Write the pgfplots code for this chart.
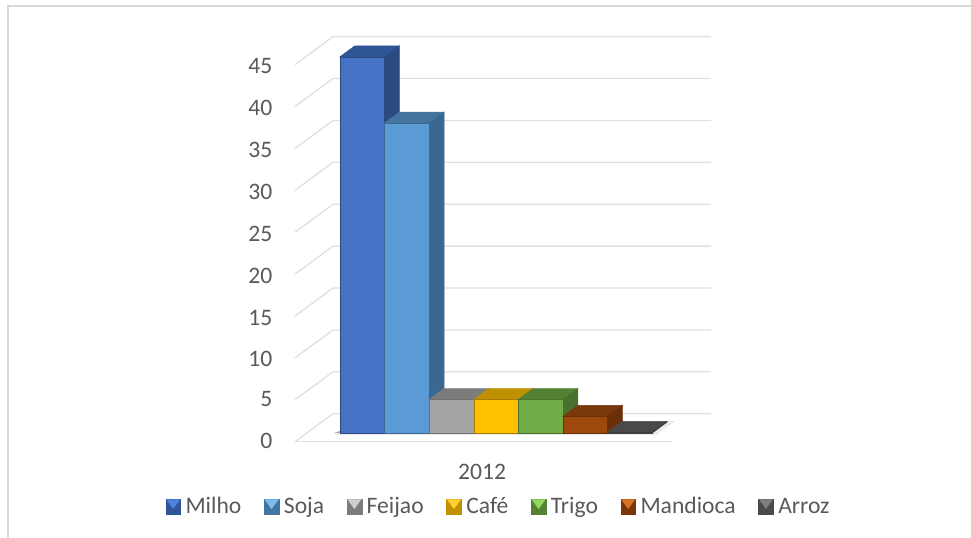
\documentclass[border=0pt]{standalone}
\usepackage{fontspec}
\setmainfont{Carlito}
\usepackage{pgfplots}
\pgfplotsset{compat=1.18}
\definecolor{gridc}{HTML}{E0E0E0}
\definecolor{framec}{HTML}{D9D9D9}
\definecolor{textc}{HTML}{595959}
% front, top, side and highlight colours of each crop
\definecolor{milhoF}{HTML}{4472C4}\definecolor{milhoT}{HTML}{2F5597}\definecolor{milhoS}{HTML}{2A4A80}\definecolor{milhoH}{HTML}{4F82DC}
\definecolor{sojaF}{HTML}{5B9BD5}\definecolor{sojaT}{HTML}{44759F}\definecolor{sojaS}{HTML}{3A6890}\definecolor{sojaH}{HTML}{7CBDF2}
\definecolor{feijaoF}{HTML}{A5A5A5}\definecolor{feijaoT}{HTML}{7C7C7C}\definecolor{feijaoS}{HTML}{6E6E6E}\definecolor{feijaoH}{HTML}{CFCFCF}
\definecolor{cafeF}{HTML}{FFC000}\definecolor{cafeT}{HTML}{BF9000}\definecolor{cafeS}{HTML}{A67C00}\definecolor{cafeH}{HTML}{FFD030}
\definecolor{trigoF}{HTML}{70AD47}\definecolor{trigoT}{HTML}{548235}\definecolor{trigoS}{HTML}{4A7030}\definecolor{trigoH}{HTML}{90D860}
\definecolor{mandiocaF}{HTML}{9E480E}\definecolor{mandiocaT}{HTML}{7A370B}\definecolor{mandiocaS}{HTML}{6A300A}\definecolor{mandiocaH}{HTML}{D87428}
\definecolor{arrozF}{HTML}{636363}\definecolor{arrozT}{HTML}{4A4A4A}\definecolor{arrozS}{HTML}{3E3E3E}\definecolor{arrozH}{HTML}{7E7E7E}

% One 3-D column: top, side and front faces, at depth 0.31 to 0.70 of the floor.
% #1 left x, #2 right x, #3 value, #4 colour prefix, #5 name
\newcommand{\cropcolumn}[5]{%
  \addplot3[forget plot,fill=#4T,draw=#4T] coordinates {(#1,0.31,#3) (#2,0.31,#3) (#2,0.70,#3) (#1,0.70,#3)} -- cycle;
  \addplot3[forget plot,fill=#4S,draw=#4S] coordinates {(#2,0.31,0) (#2,0.70,0) (#2,0.70,#3) (#2,0.31,#3)} -- cycle;
  \addplot3[fill=#4F,draw=#4S,line width=0.3pt,
    legend image code/.code={
      \fill[#4T] (0pt,-5.6pt) rectangle (11.2pt,5.6pt);
      \fill[#4H] (0.7pt,5.2pt) -- (10.5pt,5.2pt) -- (5.6pt,-1.6pt) -- cycle;
    }] coordinates {(#1,0.31,0) (#2,0.31,0) (#2,0.31,#3) (#1,0.31,#3)} -- cycle;
  \addlegendentry{#5}%
}

\begin{document}
\begin{tikzpicture}
\path[use as bounding box] (0,0) rectangle (728.25pt,403.5pt);
\draw[framec,line width=1.6pt] (6pt,0pt) -- (6pt,399pt) -- (728.25pt,399pt);
\begin{axis}[
  at={(221.25pt,72.2pt)}, anchor=origin,
  x={(0.75pt,0pt)}, y={(28.5pt,21pt)}, z={(0pt,6.285pt)},
  xmin=0, xmax=378, ymin=0, ymax=1, zmin=0, zmax=45,
  clip=false,
  axis line style={draw=none},
  tick style={draw=none},
  ytick=\empty,
  xtick={188}, xticklabels={2012},
  ztick={0,5,...,45},
  tick label style={text=textc},
  xticklabel style={font=\fontsize{17.7pt}{19pt}\selectfont,yshift=-13pt,xshift=4pt},
  zticklabel style={font=\fontsize{17.7pt}{19pt}\selectfont,xshift=-13.5pt,yshift=3pt},
  /pgf/number format/assume math mode=true,
  legend columns=7,
  legend cell align=left,
  legend style={
    at={(axis description cs:0.49,-0.16)}, anchor=center,
    draw=none, fill=none, text=textc,
    font=\fontsize{17.7pt}{19pt}\selectfont,
    /tikz/every even column/.append style={column sep=14.9pt},
    /tikz/every odd column/.append style={column sep=1.5pt},
  },
]
% Side wall and back wall grid lines, every 5 units
\addplot3[forget plot,gridc,line width=1pt] coordinates {(0,0,0) (0,1,0) (378,1,0)};
\addplot3[forget plot,gridc,line width=1pt] coordinates {(0,0,5) (0,1,5) (378,1,5)};
\addplot3[forget plot,gridc,line width=1pt] coordinates {(0,0,10) (0,1,10) (378,1,10)};
\addplot3[forget plot,gridc,line width=1pt] coordinates {(0,0,15) (0,1,15) (378,1,15)};
\addplot3[forget plot,gridc,line width=1pt] coordinates {(0,0,20) (0,1,20) (378,1,20)};
\addplot3[forget plot,gridc,line width=1pt] coordinates {(0,0,25) (0,1,25) (378,1,25)};
\addplot3[forget plot,gridc,line width=1pt] coordinates {(0,0,30) (0,1,30) (378,1,30)};
\addplot3[forget plot,gridc,line width=1pt] coordinates {(0,0,35) (0,1,35) (378,1,35)};
\addplot3[forget plot,gridc,line width=1pt] coordinates {(0,0,40) (0,1,40) (378,1,40)};
\addplot3[forget plot,gridc,line width=1pt] coordinates {(0,0,45) (0,1,45) (378,1,45)};
% Front edge of the floor
\addplot3[forget plot,gridc,line width=1pt] coordinates {(0,0,0) (378,0,0)};
% Soft shadow on the floor
\addplot3[forget plot,fill=black!8,draw=none] coordinates {(30,0.24,0) (352,0.24,0) (352,0.74,0) (345,0.74,0) (33.2,0.31,0)} -- cycle;
\addplot3[forget plot,fill=black!35,draw=none] coordinates {(33.2,0.31,0) (33.2,0.45,0) (27,0.31,0)} -- cycle;
% Columns for 2012
\cropcolumn{33.2}{77.8}{44.9}{milho}{Milho}
\cropcolumn{77.8}{122.4}{37}{soja}{Soja}
\cropcolumn{122.4}{167}{4}{feijao}{Feijao}
\cropcolumn{167}{211.6}{4}{cafe}{Café}
\cropcolumn{211.6}{256.2}{4}{trigo}{Trigo}
\cropcolumn{256.2}{300.8}{2}{mandioca}{Mandioca}
\cropcolumn{300.8}{345.4}{0.1}{arroz}{Arroz}
\end{axis}
\end{tikzpicture}
\end{document}
